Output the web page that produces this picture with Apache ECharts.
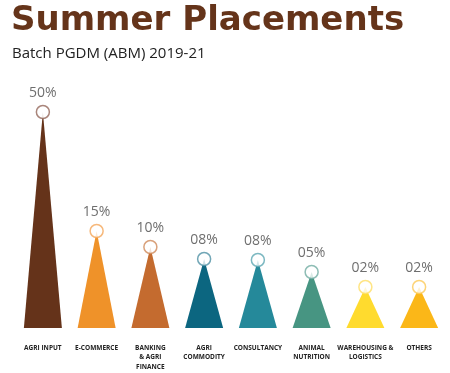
<!DOCTYPE html>
<html><head><meta charset="utf-8">
<script src="https://cdn.jsdelivr.net/npm/echarts@6/dist/echarts.min.js"></script>
<style>html,body{margin:0;padding:0;background:#fff}#c{width:450px;height:373px}</style>
</head><body><div id="c"></div>
<script>
const categories = ['AGRI INPUT','E-COMMERCE','BANKING\n& AGRI\nFINANCE','AGRI\nCOMMODITY','CONSULTANCY','ANIMAL\nNUTRITION','WAREHOUSING &\nLOGISTICS','OTHERS'];
const values = [50, 15, 10, 8, 8, 5, 2, 2];
const valueLabels = ['50%','15%','10%','08%','08%','05%','02%','02%'];
// displayed cone heights (the cones are not drawn to scale)
const coneHeights = [216, 97, 81, 69, 68, 56, 41, 41];

const fillColors = ['#65331A','#EF9229','#C46B2F','#0C6680','#25899A','#479582','#FFDB2E','#FBB718'];
const ringColors = ['#94675A','#F4A65A','#D08A5A','#4E90A4','#5BA6B2','#72ADA2','#FFDE66','#FCC956'];

const chart = echarts.init(document.getElementById('c'));
chart.setOption({
  animation: false,
  title: [
    {text: 'Summer Placements', left: 6, top: -1,
     textStyle: {fontFamily: 'DejaVu Sans', fontWeight: 'bold', fontSize: 34, color: '#65341A'}},
    {text: 'Batch PGDM (ABM) 2019-21', left: 7, top: 41,
     textStyle: {fontFamily: 'Open Sans', fontWeight: 'normal', fontSize: 15, color: '#222'}}
  ],
  grid: {left: 16, right: 4, top: 108, bottom: 45},
  xAxis: {
    type: 'category', data: categories,
    axisLine: {show: false}, axisTick: {show: false},
    axisLabel: {interval: 0, margin: 15, fontFamily: 'Open Sans', fontWeight: 'bold',
      fontSize: 6.5, lineHeight: 9.5, color: '#222'}
  },
  yAxis: {type: 'value', min: 0, max: 220, show: false, splitLine: {show: false}},
  series: [
    {
      type: 'pictorialBar', symbol: 'triangle', symbolSize: [38, '100%'],
      symbolPosition: 'start', z: 2,
      data: coneHeights.map((h, i) => ({value: h, itemStyle: {color: fillColors[i]}}))
    },
    {
      type: 'scatter', symbol: 'circle', symbolSize: 13, z: 5,
      data: coneHeights.map((h, i) => ({
        value: [i, h], raw: values[i],
        itemStyle: {color: '#fff', borderColor: ringColors[i], borderWidth: 1.5}
      })),
      label: {show: true, position: 'top', distance: 5,
        formatter: p => valueLabels[p.dataIndex],
        fontFamily: 'Open Sans', fontSize: 14, color: '#4a4a4a'}
    }
  ]
});
</script></body></html>
